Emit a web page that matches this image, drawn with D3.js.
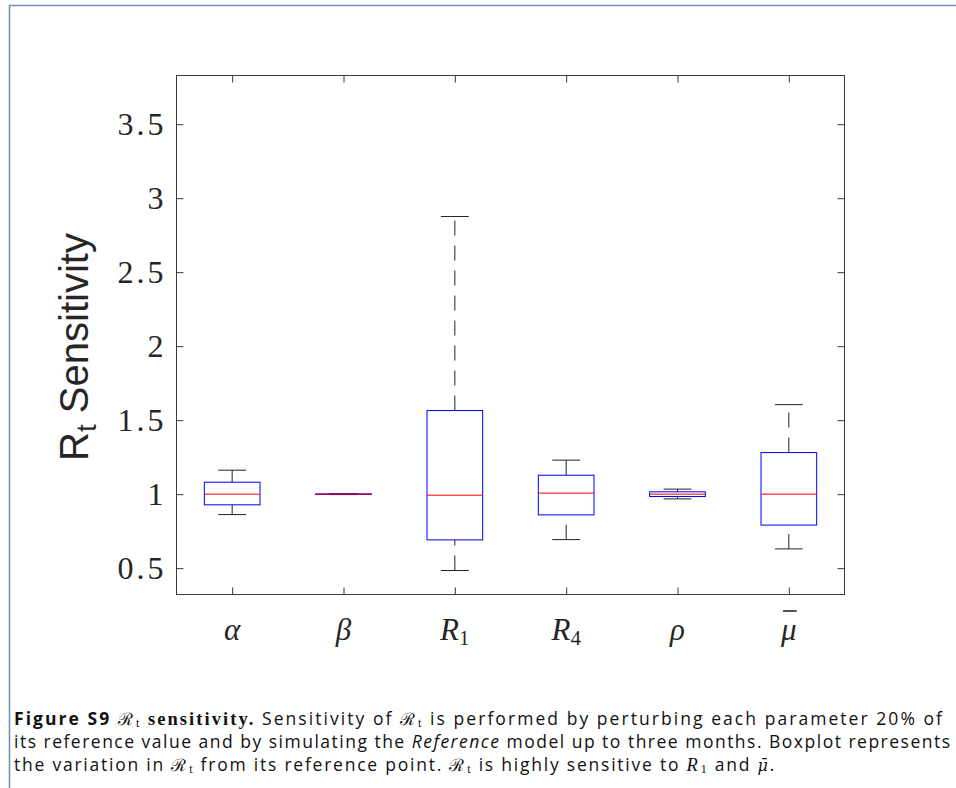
<!DOCTYPE html>
<html><head><meta charset="utf-8">
<script src="https://cdn.jsdelivr.net/npm/d3@7"></script>
<style>body{margin:0;background:#fff}</style>
</head><body>
<script>
// ---- data ----
const labelBase = ["α", "β", "R", "R", "ρ", "μ"];
const labelSub  = ["", "", "1", "4", "", ""];
const labelBar  = [false, false, false, false, false, true];
const lowerWhisker = [0.862, 0.997, 0.484, 0.693, 0.968, 0.630];
const q1           = [0.928, 0.998, 0.691, 0.860, 0.984, 0.791];
const median       = [1.000, 1.000, 0.993, 1.007, 1.000, 1.000];
const q3           = [1.081, 1.002, 1.565, 1.128, 1.016, 1.281];
const upperWhisker = [1.162, 1.003, 2.876, 1.230, 1.034, 1.605];
const yTicks = [0.5, 1, 1.5, 2, 2.5, 3, 3.5];
const yTickLabels = ["0.5", "1", "1.5", "2", "2.5", "3", "3.5"];
const yDomain = [0.322, 3.829];

const W = 956, H = 788;
const svg = d3.select("body").append("svg").attr("width", W).attr("height", H);
svg.append("rect").attr("width", W).attr("height", H).attr("fill", "#fff");

// outer frame
svg.append("path").attr("d", "M9.5,788 V5.5 H956").attr("fill", "none")
  .attr("stroke", "#7391ba").attr("stroke-width", 1.6);

const L = 176.5, R = 844.5, T = 75.5, B = 594.5;
const x = d3.scaleLinear().domain([0.5, 6.5]).range([L, R]);
const y = d3.scaleLinear().domain(yDomain).range([B, T]);
const axisColor = "#3a3a3a";
const idx = d3.range(labelBase.length);
const xTicks = idx.map(i => i + 1);

// axes
const gL = svg.append("g").attr("transform", `translate(${L},0)`)
  .call(d3.axisLeft(y).tickValues(yTicks).tickFormat((d, i) => yTickLabels[i])
    .tickSizeInner(-7).tickSizeOuter(0).tickPadding(13));
const gRt = svg.append("g").attr("transform", `translate(${R},0)`)
  .call(d3.axisRight(y).tickValues(yTicks).tickFormat("").tickSizeInner(-7).tickSizeOuter(0));
const gB = svg.append("g").attr("transform", `translate(0,${B})`)
  .call(d3.axisBottom(x).tickValues(xTicks).tickFormat("").tickSizeInner(-7).tickSizeOuter(0));
const gT = svg.append("g").attr("transform", `translate(0,${T})`)
  .call(d3.axisTop(x).tickValues(xTicks).tickFormat("").tickSizeInner(-7).tickSizeOuter(0));
[gL, gRt, gB, gT].forEach(g => {
  g.select(".domain").remove();
  g.selectAll("line").attr("stroke", axisColor).attr("stroke-width", 1);
});
gL.selectAll("text").attr("font-family", "Liberation Serif").attr("font-size", 32)
  .attr("fill", "#262626").attr("letter-spacing", 3).attr("dx", 3);
svg.append("rect").attr("x", L).attr("y", T).attr("width", R - L).attr("height", B - T)
  .attr("fill", "none").attr("stroke", axisColor).attr("stroke-width", 1);

// boxes
const hw = 0.25, cw = 0.125;
const g = svg.append("g");
idx.forEach(i => {
  const cx = x(i + 1);
  g.append("line").attr("x1", cx).attr("x2", cx).attr("y1", y(q3[i])).attr("y2", y(upperWhisker[i]))
    .attr("stroke", "#222").attr("stroke-width", 1).attr("stroke-dasharray", "15,10");
  g.append("line").attr("x1", cx).attr("x2", cx).attr("y1", y(lowerWhisker[i])).attr("y2", y(q1[i]))
    .attr("stroke", "#222").attr("stroke-width", 1).attr("stroke-dasharray", "15,10");
  [upperWhisker[i], lowerWhisker[i]].forEach(v => {
    g.append("line").attr("x1", x(i + 1 - cw)).attr("x2", x(i + 1 + cw)).attr("y1", y(v)).attr("y2", y(v))
      .attr("stroke", "#222").attr("stroke-width", 1);
  });
  g.append("rect").attr("x", x(i + 1 - hw)).attr("width", x(i + 1 + hw) - x(i + 1 - hw))
    .attr("y", y(q3[i])).attr("height", Math.max(0.5, y(q1[i]) - y(q3[i])))
    .attr("fill", "none").attr("stroke", "#0000ff").attr("stroke-width", 1);
  g.append("line").attr("x1", x(i + 1 - hw)).attr("x2", x(i + 1 + hw)).attr("y1", y(median[i])).attr("y2", y(median[i]))
    .attr("stroke", "#ff0000").attr("stroke-width", 1);
});

// x tick labels
idx.forEach(i => {
  const t = svg.append("text").attr("x", x(i + 1)).attr("y", 640).attr("text-anchor", "middle")
    .attr("font-family", "Liberation Serif").attr("fill", "#262626");
  t.append("tspan").attr("font-style", "italic").attr("font-size", 31).text(labelBase[i]);
  if (labelSub[i]) t.append("tspan").attr("font-size", 21).attr("dy", 5).text(labelSub[i]);
  if (labelBar[i]) {
    const bb = t.node().getBBox();
    svg.append("line").attr("x1", bb.x + 3).attr("x2", bb.x + bb.width).attr("y1", 611).attr("y2", 611)
      .attr("stroke", "#262626").attr("stroke-width", 1.6);
  }
});

// y label
const yl = svg.append("text").attr("transform", "translate(88,347) rotate(-90)")
  .attr("text-anchor", "middle").attr("font-family", "Liberation Sans").attr("font-size", 40).attr("fill", "#262626");
yl.append("tspan").text("R");
yl.append("tspan").attr("font-size", 28).attr("dy", 8).text("t");
yl.append("tspan").attr("dy", -8).text(" Sensitivity");

// caption
const sans = "Open Sans", serif = "Liberation Serif", math = "DejaVu Serif";
function Rt() {
  return [{t: "ℛ", f: math, s: 17}, {t: "t", f: serif, s: 12, dy: 2, dx: 1}];
}
const lines = [
  {y: 725, end: 940, segs: [
    {t: "Figure S9 ", f: sans, w: "bold"}, ...Rt(), {t: " ", f: sans, dy: -2},
    {t: "sensitivity.", f: serif, w: "bold", s: 18.5},
    {t: " Sensitivity of ", f: sans}, ...Rt(),
    {t: " is performed by perturbing each parameter 20% of", f: sans, dy: -2}]},
  {y: 748, end: 950, segs: [
    {t: "its reference value and by simulating the ", f: sans},
    {t: "Reference", f: sans, i: true},
    {t: " model up to three months. Boxplot represents", f: sans}]},
  {y: 771, end: 773, segs: [
    {t: "the variation in ", f: sans}, ...Rt(),
    {t: " from its reference point. ", f: sans, dy: -2}, ...Rt(),
    {t: " is highly sensitive to ", f: sans, dy: -2},
    {t: "R", f: serif, i: true, s: 18.5}, {t: "1", f: serif, s: 12, dy: 2, dx: 1},
    {t: " and ", f: sans, dy: -2}, {t: "μ̄", f: math, i: true, s: 16}, {t: ".", f: serif, s: 18}]}
];
lines.forEach(ln => {
  const t = svg.append("text").attr("x", 14).attr("y", ln.y).attr("fill", "#111").attr("font-size", 17.5);
  ln.segs.forEach(s => {
    const sp = t.append("tspan").attr("font-family", s.f).text(s.t);
    if (s.w) sp.attr("font-weight", s.w);
    if (s.i) sp.attr("font-style", "italic");
    if (s.s) sp.attr("font-size", s.s);
    if (s.dy) sp.attr("dy", s.dy);
    if (s.dx) sp.attr("dx", s.dx);
  });
  const n = t.node();
  const w = n.getComputedTextLength();
  const nc = n.getNumberOfChars();
  const ls = (ln.end - 14 - w) / (nc - 1);
  t.attr("letter-spacing", ls);
});
</script>
</body></html>
